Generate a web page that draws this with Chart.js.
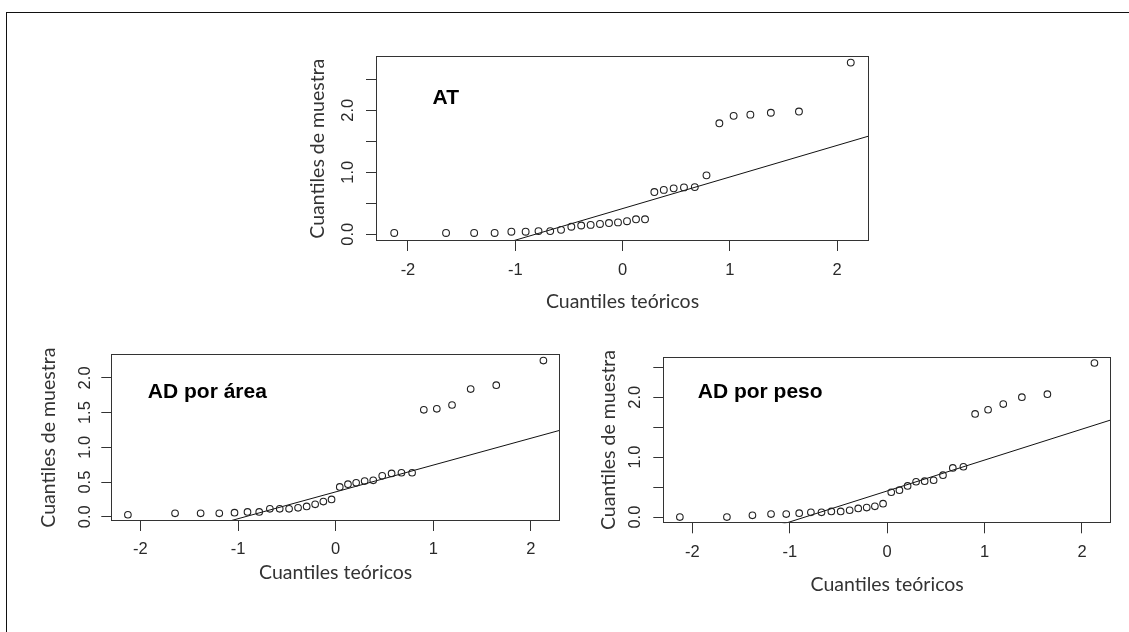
<!DOCTYPE html>
<html>
<head>
<meta charset="utf-8">
<script src="https://cdn.jsdelivr.net/npm/chart.js@4.4.0/dist/chart.umd.min.js"></script>
<style>
    html, body { margin: 0; padding: 0; background: #fff; }
    body { width: 1129px; height: 632px; position: relative; overflow: hidden; }
    #frame { position: absolute; left: 6px; top: 12px; width: 1300px; height: 800px;
             border-top: 1px solid #111; border-left: 1px solid #111; }
    canvas { position: absolute; }
</style>
</head>
<body>
<div id="frame"></div>
<canvas id="qqAT" width="600" height="290" style="left:290px;top:40px"></canvas>
<canvas id="qqArea" width="560" height="260" style="left:15px;top:340px"></canvas>
<canvas id="qqPeso" width="549" height="270" style="left:580px;top:340px"></canvas>
<script>
// theoretical normal quantiles, n = 30
const theoQ = [-2.128, -1.645, -1.383, -1.192, -1.036, -0.903, -0.783, -0.674, -0.573, -0.477,
               -0.385, -0.297, -0.210, -0.126, -0.042, 0.042, 0.126, 0.210, 0.297, 0.385,
               0.477, 0.573, 0.674, 0.783, 0.903, 1.036, 1.192, 1.383, 1.645, 2.128];

// sample quantiles
const sampleAT = [0.02, 0.02, 0.02, 0.02, 0.04, 0.04, 0.05, 0.05, 0.07, 0.12,
                  0.14, 0.15, 0.165, 0.18, 0.19, 0.21, 0.24, 0.24, 0.68, 0.715,
                  0.74, 0.755, 0.76, 0.95, 1.79, 1.91, 1.93, 1.96, 1.98, 2.77];
const sampleArea = [0.03, 0.05, 0.05, 0.05, 0.06, 0.07, 0.07, 0.115, 0.115, 0.115,
                    0.13, 0.15, 0.18, 0.22, 0.25, 0.43, 0.47, 0.49, 0.515, 0.525,
                    0.59, 0.625, 0.635, 0.635, 1.54, 1.555, 1.61, 1.84, 1.895, 2.25];
const samplePeso = [0.00, 0.00, 0.03, 0.05, 0.05, 0.065, 0.08, 0.08, 0.095, 0.095,
                    0.115, 0.145, 0.16, 0.18, 0.225, 0.415, 0.45, 0.52, 0.59, 0.60,
                    0.615, 0.70, 0.82, 0.84, 1.72, 1.79, 1.885, 2.00, 2.05, 2.57];

// qqline end points (clipped by the plot area)
const lineAT = [[-2.3, -0.76], [2.3, 1.586]];
const lineArea = [[-2.3, -0.529], [2.3, 1.247]];
const linePeso = [[-2.3, -0.75], [2.3, 1.622]];

const xTitle = 'Cuantiles teóricos';
const yTitle = 'Cuantiles de muestra';

const tickFont = { family: 'Liberation Sans', size: 16.5 };
const titleFont = { family: 'Lato', size: 19.5 };

const frameBox = {
    id: 'frameBox',
    afterDraw(chart) {
        const { ctx, chartArea: a } = chart;
        ctx.save();
        ctx.strokeStyle = '#333';
        ctx.lineWidth = 1;
        const l = Math.round(a.left) + 0.5, t = Math.round(a.top) + 0.5;
        const r = Math.round(a.right) - 0.5, b = Math.round(a.bottom) - 0.5;
        ctx.strokeRect(l, t, r - l, b - t);
        ctx.restore();
    }
};

const panelLabel = {
    id: 'panelLabel',
    afterDatasetsDraw(chart, args, opts) {
        if (!opts.text) return;
        const { ctx, scales } = chart;
        ctx.save();
        ctx.font = 'bold 21px "Liberation Sans", Arial, sans-serif';
        ctx.fillStyle = '#000';
        ctx.textAlign = 'left';
        ctx.textBaseline = 'middle';
        ctx.fillText(opts.text, scales.x.getPixelForValue(opts.x), scales.y.getPixelForValue(opts.y));
        ctx.restore();
    }
};

function qqChart(id, o) {
    const pts = theoQ.map((x, i) => ({ x: x, y: o.sample[i] }));
    const ln = o.line.map(p => ({ x: p[0], y: p[1] }));
    return new Chart(document.getElementById(id), {
        type: 'scatter',
        data: {
            datasets: [
                { data: pts, pointStyle: 'circle', pointRadius: o.radius, borderColor: '#222',
                  backgroundColor: 'rgba(0,0,0,0)', borderWidth: 1.1 },
                { data: ln, showLine: true, pointRadius: 0, borderColor: '#111', borderWidth: 1 }
            ]
        },
        options: {
            responsive: false,
            animation: false,
            events: [],
            layout: { padding: o.pad },
            plugins: {
                legend: { display: false },
                tooltip: { enabled: false },
                panelLabel: o.label
            },
            scales: {
                x: {
                    min: o.xRange[0], max: o.xRange[1],
                    afterFit: s => { s.height = o.xAxisH; },
                    border: { display: false },
                    grid: { drawOnChartArea: false, drawTicks: true, tickLength: 10, color: '#333' },
                    ticks: { stepSize: 1, includeBounds: false, autoSkip: false, maxRotation: 0,
                             padding: o.xTickPad, font: tickFont, color: '#2a2a2a',
                             callback: v => String(v) },
                    title: { display: true, text: xTitle, font: titleFont, color: '#333', padding: 0 }
                },
                y: {
                    min: o.yRange[0], max: o.yRange[1],
                    afterFit: s => { s.width = o.yAxisW; },
                    border: { display: false },
                    grid: { drawOnChartArea: false, drawTicks: true, tickLength: 10, color: '#333' },
                    ticks: { stepSize: 0.5, includeBounds: false, autoSkip: false,
                             minRotation: 90, maxRotation: 90, crossAlign: 'center',
                             padding: o.yTickPad, font: tickFont, color: '#2a2a2a',
                             callback: v => (o.allLabels || Number.isInteger(v)) ? v.toFixed(1) : '' },
                    title: { display: true, text: yTitle, font: titleFont, color: '#333', padding: 0 }
                }
            }
        },
        plugins: [frameBox, panelLabel]
    });
}

qqChart('qqAT', {
    sample: sampleAT, line: lineAT, radius: 3.4,
    xRange: [-2.298, 2.298], yRange: [-0.11, 2.87],
    pad: { left: 16.3, top: 16, right: 21, bottom: 16.6 },
    xAxisH: 72.4, yAxisW: 69.7, xTickPad: 10, yTickPad: 6.5,
    label: { text: 'AT', x: -1.771, y: 2.2 }
});

qqChart('qqArea', {
    sample: sampleArea, line: lineArea, radius: 3.3,
    xRange: [-2.298, 2.298], yRange: [-0.06, 2.34], allLabels: true,
    pad: { left: 21.6, top: 13.3, right: 15, bottom: 15.3 },
    xAxisH: 63.7, yAxisW: 74.7, xTickPad: 9, yTickPad: 4.4,
    label: { text: 'AD por área', x: -1.924, y: 1.795 }
});

qqChart('qqPeso', {
    sample: samplePeso, line: linePeso, radius: 3.3,
    xRange: [-2.298, 2.298], yRange: [-0.103, 2.675],
    pad: { left: 17.3, top: 16, right: 18, bottom: 13.3 },
    xAxisH: 73.4, yAxisW: 66, xTickPad: 8.8, yTickPad: 6.8,
    label: { text: 'AD por peso', x: -1.944, y: 2.086 }
});
</script>
</body>
</html>
